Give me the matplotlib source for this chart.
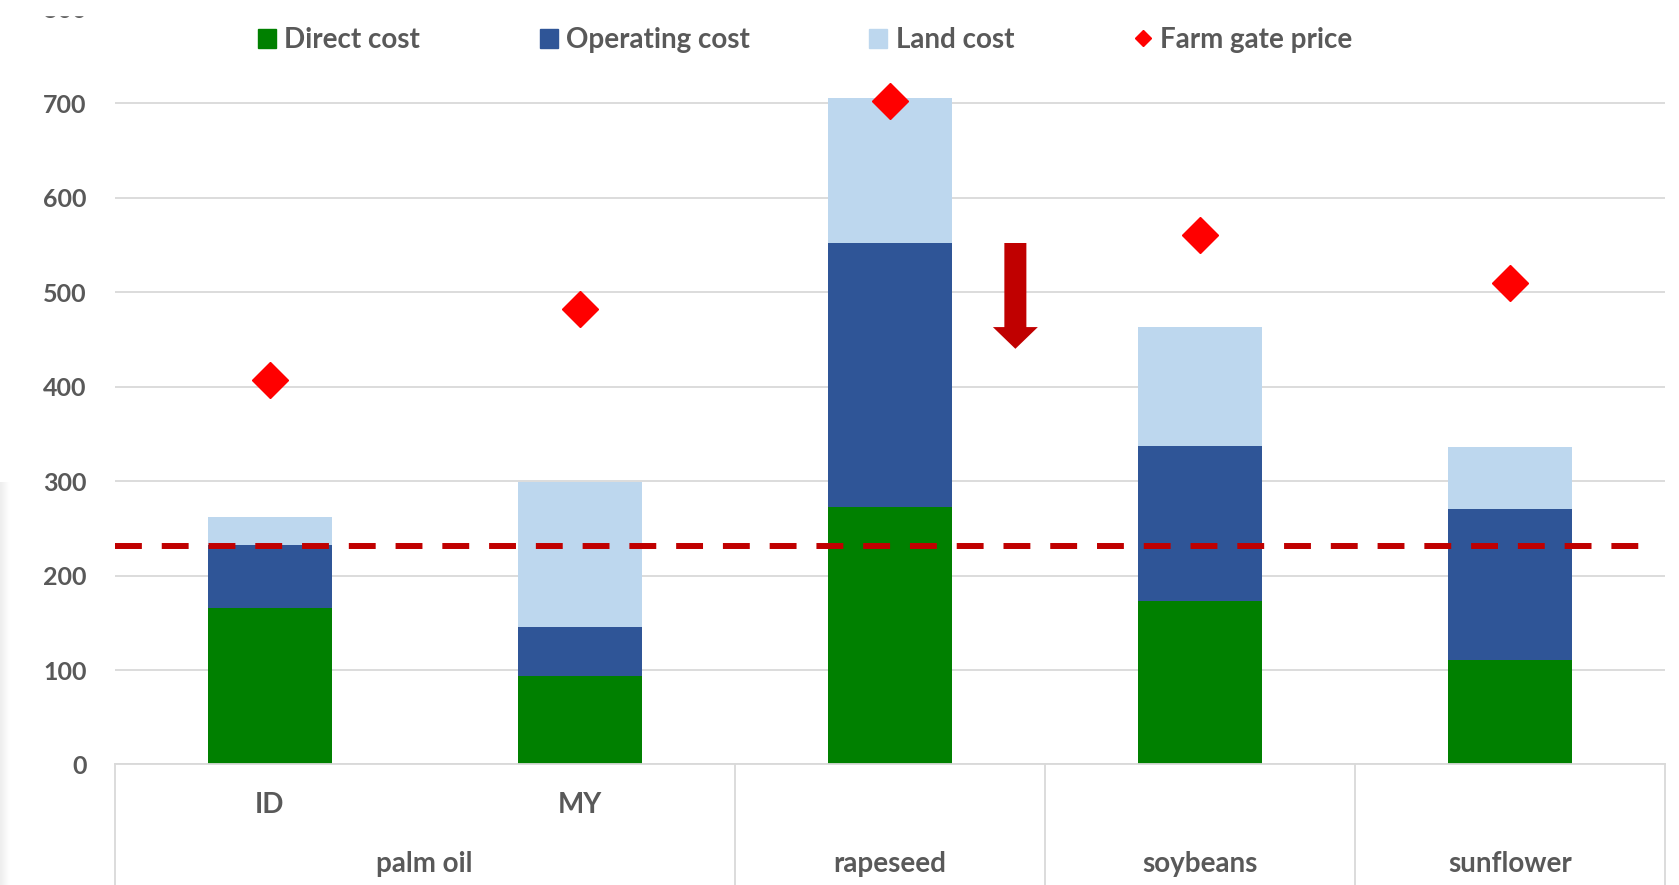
import numpy as np
import matplotlib
matplotlib.use("Agg")
import matplotlib.pyplot as plt
from matplotlib.patches import Patch, FancyArrow, Rectangle
from matplotlib.lines import Line2D

# cost components per crop / country (USD per tonne)
countries = ["ID", "MY", "", "", ""]
groups = ["palm oil", "rapeseed", "soybeans", "sunflower"]
group_pos = [0.5, 2, 3, 4]
direct_cost = [166, 94, 273, 173, 111]
operating_cost = [66, 52, 279, 164, 159]
land_cost = [30, 153, 154, 126, 66]
farm_gate_price = [407, 482, 702, 560, 510]
reference_level = 231
yticks = [0, 100, 200, 300, 400, 500, 600, 700, 800]

c_direct = "#008000"
c_oper = "#2F5597"
c_land = "#BDD7EE"
c_price = "#FF0000"
c_dark_red = "#C00000"
c_text = "#595959"
c_grid = "#D9D9D9"

plt.rcParams["font.family"] = ["Lato", "DejaVu Sans"]
plt.rcParams["font.weight"] = "bold"
fs_num = 18
fs = 20

fig = plt.figure(figsize=(16.79, 8.85), dpi=100)
ax = fig.add_axes([0.06825, 0.13616, 0.9234, 0.854])

x = list(range(len(direct_cost)))
bottom2 = [a + b for a, b in zip(direct_cost, operating_cost)]
w = 0.4
ax.bar(x, direct_cost, width=w, color=c_direct, zorder=2)
ax.bar(x, operating_cost, width=w, bottom=direct_cost, color=c_oper, zorder=2)
ax.bar(x, land_cost, width=w, bottom=bottom2, color=c_land, zorder=2)
ax.plot(x, farm_gate_price, linestyle="none", marker="D", ms=18.5,
        color=c_price, zorder=4)

# reference level dashed line
ax.plot([-0.5, 4.445], [reference_level, reference_level], color=c_dark_red,
        lw=4.3, linestyle=(0, (4.5, 3.33)), dash_capstyle="butt", zorder=3)

# downward arrow between rapeseed and soybeans
ax.add_patch(FancyArrow(2.405, 552, 0, -112, width=0.071, head_width=0.145,
                        head_length=23, length_includes_head=True,
                        color=c_dark_red, lw=0, zorder=3))

ax.set_xlim(-0.5, 4.5)
ax.set_ylim(0, 800)
ax.set_yticks(yticks)
ax.set_xticks([])
ax.tick_params(axis="y", length=0, pad=20, labelsize=fs_num, labelcolor=c_text)
ax.yaxis.grid(True, color=c_grid, lw=1.3, zorder=0)
ax.set_axisbelow(True)
for s in ["top", "right", "left"]:
    ax.spines[s].set_visible(False)
ax.spines["bottom"].set_color(c_grid)
ax.spines["bottom"].set_linewidth(1.3)

# category axis box
for xs in [-0.5, 1.5, 2.5, 3.5, 4.5]:
    ax.plot([xs, xs], [0, -140], color=c_grid, lw=1.3, clip_on=False)
for i, lab in enumerate(countries):
    if lab:
        ax.text(i, -43, lab, ha="center", va="center", fontsize=fs,
                color=c_text, fontweight="bold", clip_on=False)
for gx, g in zip(group_pos, groups):
    ax.text(gx, -105, g, ha="center", va="center", fontsize=fs,
            color=c_text, fontweight="bold", clip_on=False)

handles = [
    Patch(color=c_direct, label="Direct cost"),
    Patch(color=c_oper, label="Operating cost"),
    Patch(color=c_land, label="Land cost"),
    Line2D([], [], linestyle="none", marker="D", ms=8, color=c_price,
           label="Farm gate price"),
]
fig.legend(handles=handles, loc="center", bbox_to_anchor=(0.4795, 1 - 40 / 885),
           ncol=4, frameon=False, fontsize=fs, labelcolor=c_text,
           handlelength=0.65, handleheight=0.65, handletextpad=0.3,
           columnspacing=4.3)

# top edge of the slide crops the chart
fig.patches.append(Rectangle((0, 1 - 14.5 / 885), 1, 14.5 / 885,
                             transform=fig.transFigure, color="white",
                             zorder=10))

# faint shadow along the left edge of the slide
shade = np.linspace(0.93, 1.0, 32).reshape(1, -1)
sax = fig.add_axes([0, 0, 10 / 1679, 1 - 482 / 885], zorder=-1)
sax.imshow(shade, cmap="gray", vmin=0, vmax=1, aspect="auto")
sax.axis("off")

fig.savefig("out.png", dpi=100)
